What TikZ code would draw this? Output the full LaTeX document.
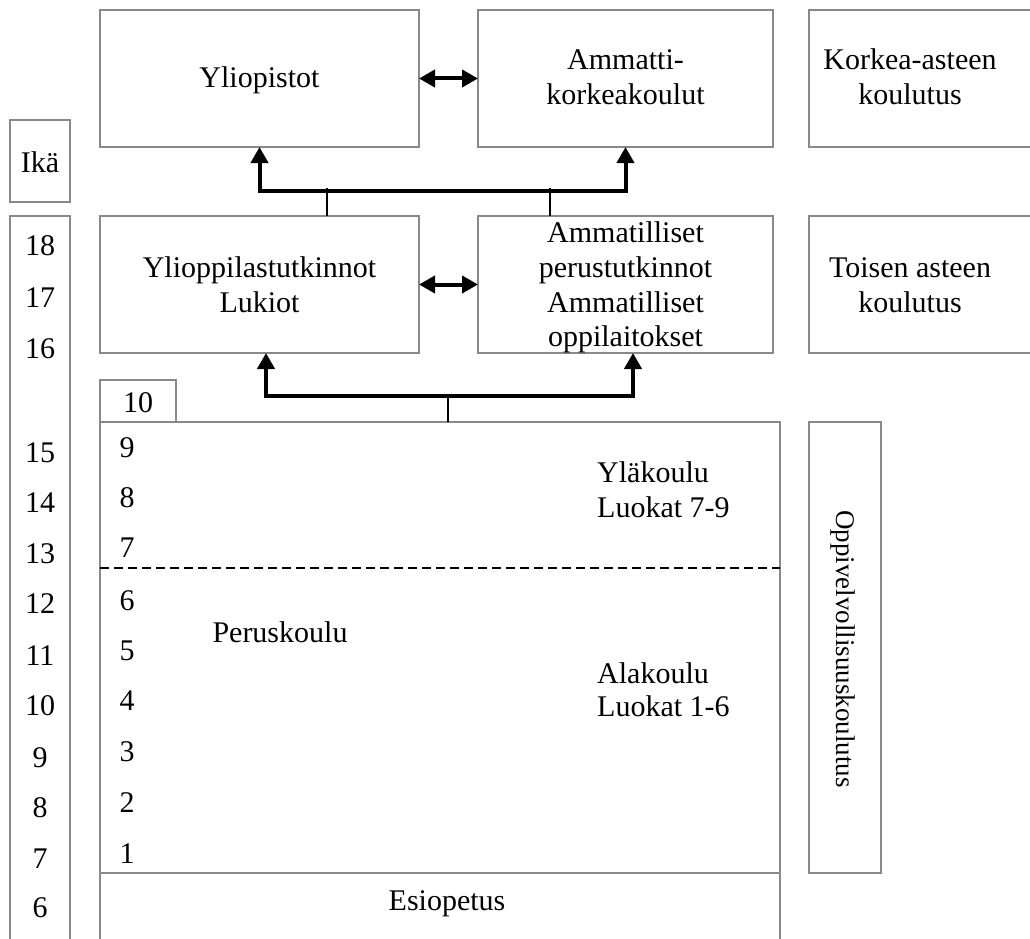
\documentclass[tikz,border=0pt]{standalone}
\usepackage{fontspec}
\setmainfont{Liberation Serif}
\usetikzlibrary{arrows.meta}
\definecolor{bord}{RGB}{137,137,137}
\begin{document}
\begin{tikzpicture}[x=1pt,y=-1pt,
  box/.style={draw=bord, line width=2pt, rectangle, inner sep=0pt, outer sep=0pt},
  txt/.style={anchor=base, inner sep=0pt, font=\fontsize{30}{35}\selectfont},
  ltxt/.style={txt, anchor=base west},
  link/.style={line width=4pt, {Triangle[length=16pt,width=17pt]}-{Triangle[length=16pt,width=17pt]}},
  tickline/.style={line width=2pt},
  divider/.style={line width=2.5pt, dash pattern=on 9pt off 5pt}]
\clip (0,0) rectangle (1030,939);
% boxes
\node[box, minimum width=319pt, minimum height=137pt] (ylio) at (259.5,78.5) {};
\node[box, minimum width=295pt, minimum height=137pt] (amk) at (625.5,78.5) {};
\node[box, minimum width=241pt, minimum height=137pt] (korkea) at (929.5,78.5) {};
\node[box, minimum width=60pt, minimum height=82pt] (ika) at (40,161) {};
\node[box, minimum width=60pt, minimum height=734pt] (agecol) at (40,583) {};
\node[box, minimum width=319pt, minimum height=137pt] (lukio) at (259.5,284.5) {};
\node[box, minimum width=295pt, minimum height=137pt] (ammp) at (625.5,284.5) {};
\node[box, minimum width=241pt, minimum height=137pt] (toinen) at (929.5,284.5) {};
\node[box, minimum width=76pt, minimum height=42pt] (kymp) at (138,401) {};
\node[box, minimum width=680pt, minimum height=451pt] (perus) at (440,647.5) {};
\node[box, minimum width=680pt, minimum height=77pt] (esi) at (440,911.5) {};
\node[box, minimum width=72pt, minimum height=451pt] (oppi) at (845,647.5) {};
% texts
\node[txt] (t-ylio) at (259.5,88) {Yliopistot};
\node[txt] (t-amk1) at (625.5,70) {Ammatti-};
\node[txt] (t-amk2) at (625.5,105) {korkeakoulut};
\node[txt] (t-kor1) at (910,70) {Korkea-asteen};
\node[txt] (t-kor2) at (910,105) {koulutus};
\node[txt] (t-ika) at (40,172) {Ikä};
\node[txt] (t-luk1) at (259.5,277) {Ylioppilastutkinnot};
\node[txt] (t-luk2) at (259.5,312) {Lukiot};
\node[txt] (t-amp1) at (625.5,242) {Ammatilliset};
\node[txt] (t-amp2) at (625.5,277) {perustutkinnot};
\node[txt] (t-amp3) at (625.5,312) {Ammatilliset};
\node[txt] (t-amp4) at (625.5,346) {oppilaitokset};
\node[txt] (t-toi1) at (910,277) {Toisen asteen};
\node[txt] (t-toi2) at (910,312) {koulutus};
\node[txt] (t-kymp) at (138,412) {10};
\foreach \a/\yy in {18/255,17/307,16/358,15/462,14/512,13/563,12/613,11/665,10/715,9/767,8/817,7/868,6/917}
  \node[txt] (age\a) at (40,\yy) {\a};
\foreach \g/\yy in {9/457,8/507,7/557,6/610,5/660,4/710,3/761,2/812,1/863}
  \node[txt] (gr\g) at (127,\yy) {\g};
\node[txt] (t-perus) at (280,642) {Peruskoulu};
\node[ltxt] (t-yla1) at (597,482) {Yläkoulu};
\node[ltxt] (t-yla2) at (597,517) {Luokat 7-9};
\node[ltxt] (t-ala1) at (597,683) {Alakoulu};
\node[ltxt] (t-ala2) at (597,716) {Luokat 1-6};
\node[txt] (t-esi) at (447,910) {Esiopetus};
\node[inner sep=0pt, rotate=-90, font=\fontsize{27}{32}\selectfont] (t-oppi) at (843,649) {Oppivelvollisuuskoulutus};
% dashed divider
\coordinate (dl) at (100,568);
\draw[divider] (dl) -- (dl -| perus.east);
% connectors
\draw[link] (ylio.east) -- (amk.west);
\draw[link] (lukio.east) -- (ammp.west);
\coordinate (ja) at (259.5,191);
\draw[link] (ylio.south) -- (ja) -| (amk.south);
\coordinate (jb1) at (266,396);
\coordinate (jb2) at (633,396);
\draw[link] (jb1 |- lukio.south) -- (jb1) -- (jb2) -- (jb2 |- ammp.south);
\coordinate (tk1) at (327,188);
\coordinate (tk2) at (550,188);
\coordinate (tk3) at (448,394);
\draw[tickline] (tk1) -- (tk1 |- lukio.north);
\draw[tickline] (tk2) -- (tk2 |- ammp.north);
\draw[tickline] (tk3) -- (tk3 |- perus.north);
\end{tikzpicture}
\end{document}
